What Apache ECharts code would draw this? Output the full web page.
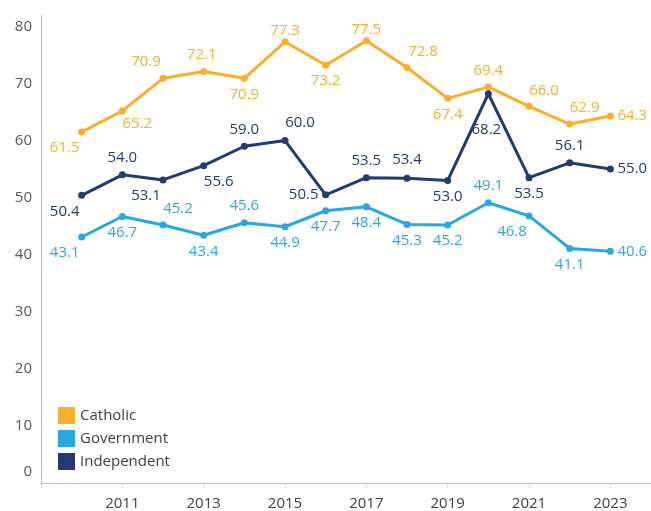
<!DOCTYPE html>
<html>
<head>
<meta charset="utf-8">
<script src="https://cdn.jsdelivr.net/npm/echarts@6/dist/echarts.min.js"></script>
<style>html,body{margin:0;padding:0;background:#fff;}#c{width:651px;height:511px;}</style>
</head>
<body>
<div id="c"></div>
<script>
// ---- data ----
const years = ['2010','2011','2012','2013','2014','2015','2016','2017','2018','2019','2020','2021','2022','2023'];
const catholic    = [61.5, 65.2, 70.9, 72.1, 70.9, 77.3, 73.2, 77.5, 72.8, 67.4, 69.4, 66.0, 62.9, 64.3];
const government  = [43.1, 46.7, 45.2, 43.4, 45.6, 44.9, 47.7, 48.4, 45.3, 45.2, 49.1, 46.8, 41.1, 40.6];
const independent = [50.4, 54.0, 53.1, 55.6, 59.0, 60.0, 50.5, 53.5, 53.4, 53.0, 68.2, 53.5, 56.1, 55.0];
const yTicks = [0, 10, 20, 30, 40, 50, 60, 70, 80];

// ---- label placement (style only) ----
const catOff = [[-17,16],[15,13],[-17,-17],[-2,-17],[0,16],[0,-11],[0,16],[0,-11],[16,-16],[0,16],[0,-16],[15,-16],[15,-16],[22,0]];
const govOff = [[-17,16],[0,16],[15,-16],[0,16],[0,-17],[0,16],[0,16],[0,16],[0,16],[0,16],[0,-17],[-17,16],[0,16],[22,0]];
const indOff = [[-17,16],[0,-17],[-17,16],[15,16],[0,-17],[15,-18],[-22,0],[0,-17],[0,-18],[0,16],[-2,36],[0,16],[0,-17],[22,0]];

const axisCats = [''].concat(years, ['']);
function build(vals, offs) {
  const d = [null];
  vals.forEach((v, i) => d.push({value: v, label: {offset: offs[i]}}));
  d.push(null);
  return d;
}
const FONT = '"Open Sans", "Liberation Sans", sans-serif';
function series(name, vals, offs, color) {
  return {
    name: name, type: 'line', data: build(vals, offs),
    symbol: 'circle', symbolSize: 7, connectNulls: false,
    lineStyle: {width: 3, color: color}, itemStyle: {color: color},
    label: {show: true, position: 'inside', color: color, fontSize: 15, fontFamily: FONT,
            formatter: p => p.value.toFixed(1)},
    emphasis: {disabled: true}, animation: false
  };
}
const chart = echarts.init(document.getElementById('c'));
chart.setOption({
  backgroundColor: '#fff',
  animation: false,
  grid: {left: 41, right: 0, top: 15, bottom: 27, containLabel: false},
  legend: {
    orient: 'vertical', left: 53, top: 402, itemWidth: 17, itemHeight: 17, itemGap: 6,
    icon: 'rect', textStyle: {color: '#404040', fontSize: 15, fontFamily: FONT},
    data: ['Catholic', 'Government', 'Independent']
  },
  xAxis: {
    type: 'category', data: axisCats, boundaryGap: false,
    axisLine: {lineStyle: {color: '#BFBFBF', width: 1}},
    axisTick: {show: true, interval: 1, length: 5, lineStyle: {color: '#D9D9D9'}},
    axisLabel: {interval: 1, margin: 13, color: '#404040', fontSize: 15, fontFamily: FONT},
    splitLine: {show: false}
  },
  yAxis: {
    type: 'value', min: 0, max: 82, interval: 10,
    axisLine: {show: true, lineStyle: {color: '#BFBFBF', width: 1}},
    axisTick: {show: false},
    splitLine: {show: false},
    axisLabel: {
      margin: 9, color: '#595959', fontSize: 15, fontFamily: FONT,
      formatter: v => yTicks.indexOf(v) < 0 ? '' : (v === 0 ? '{z|0}' : String(v)),
      rich: {z: {padding: [0, 0, 22, 0], color: '#595959', fontSize: 15, fontFamily: FONT}}
    }
  },
  series: [
    series('Catholic', catholic, catOff, '#FBAD2B'),
    series('Government', government, govOff, '#29A8E0'),
    series('Independent', independent, indOff, '#233A73')
  ]
});
</script>
</body>
</html>
